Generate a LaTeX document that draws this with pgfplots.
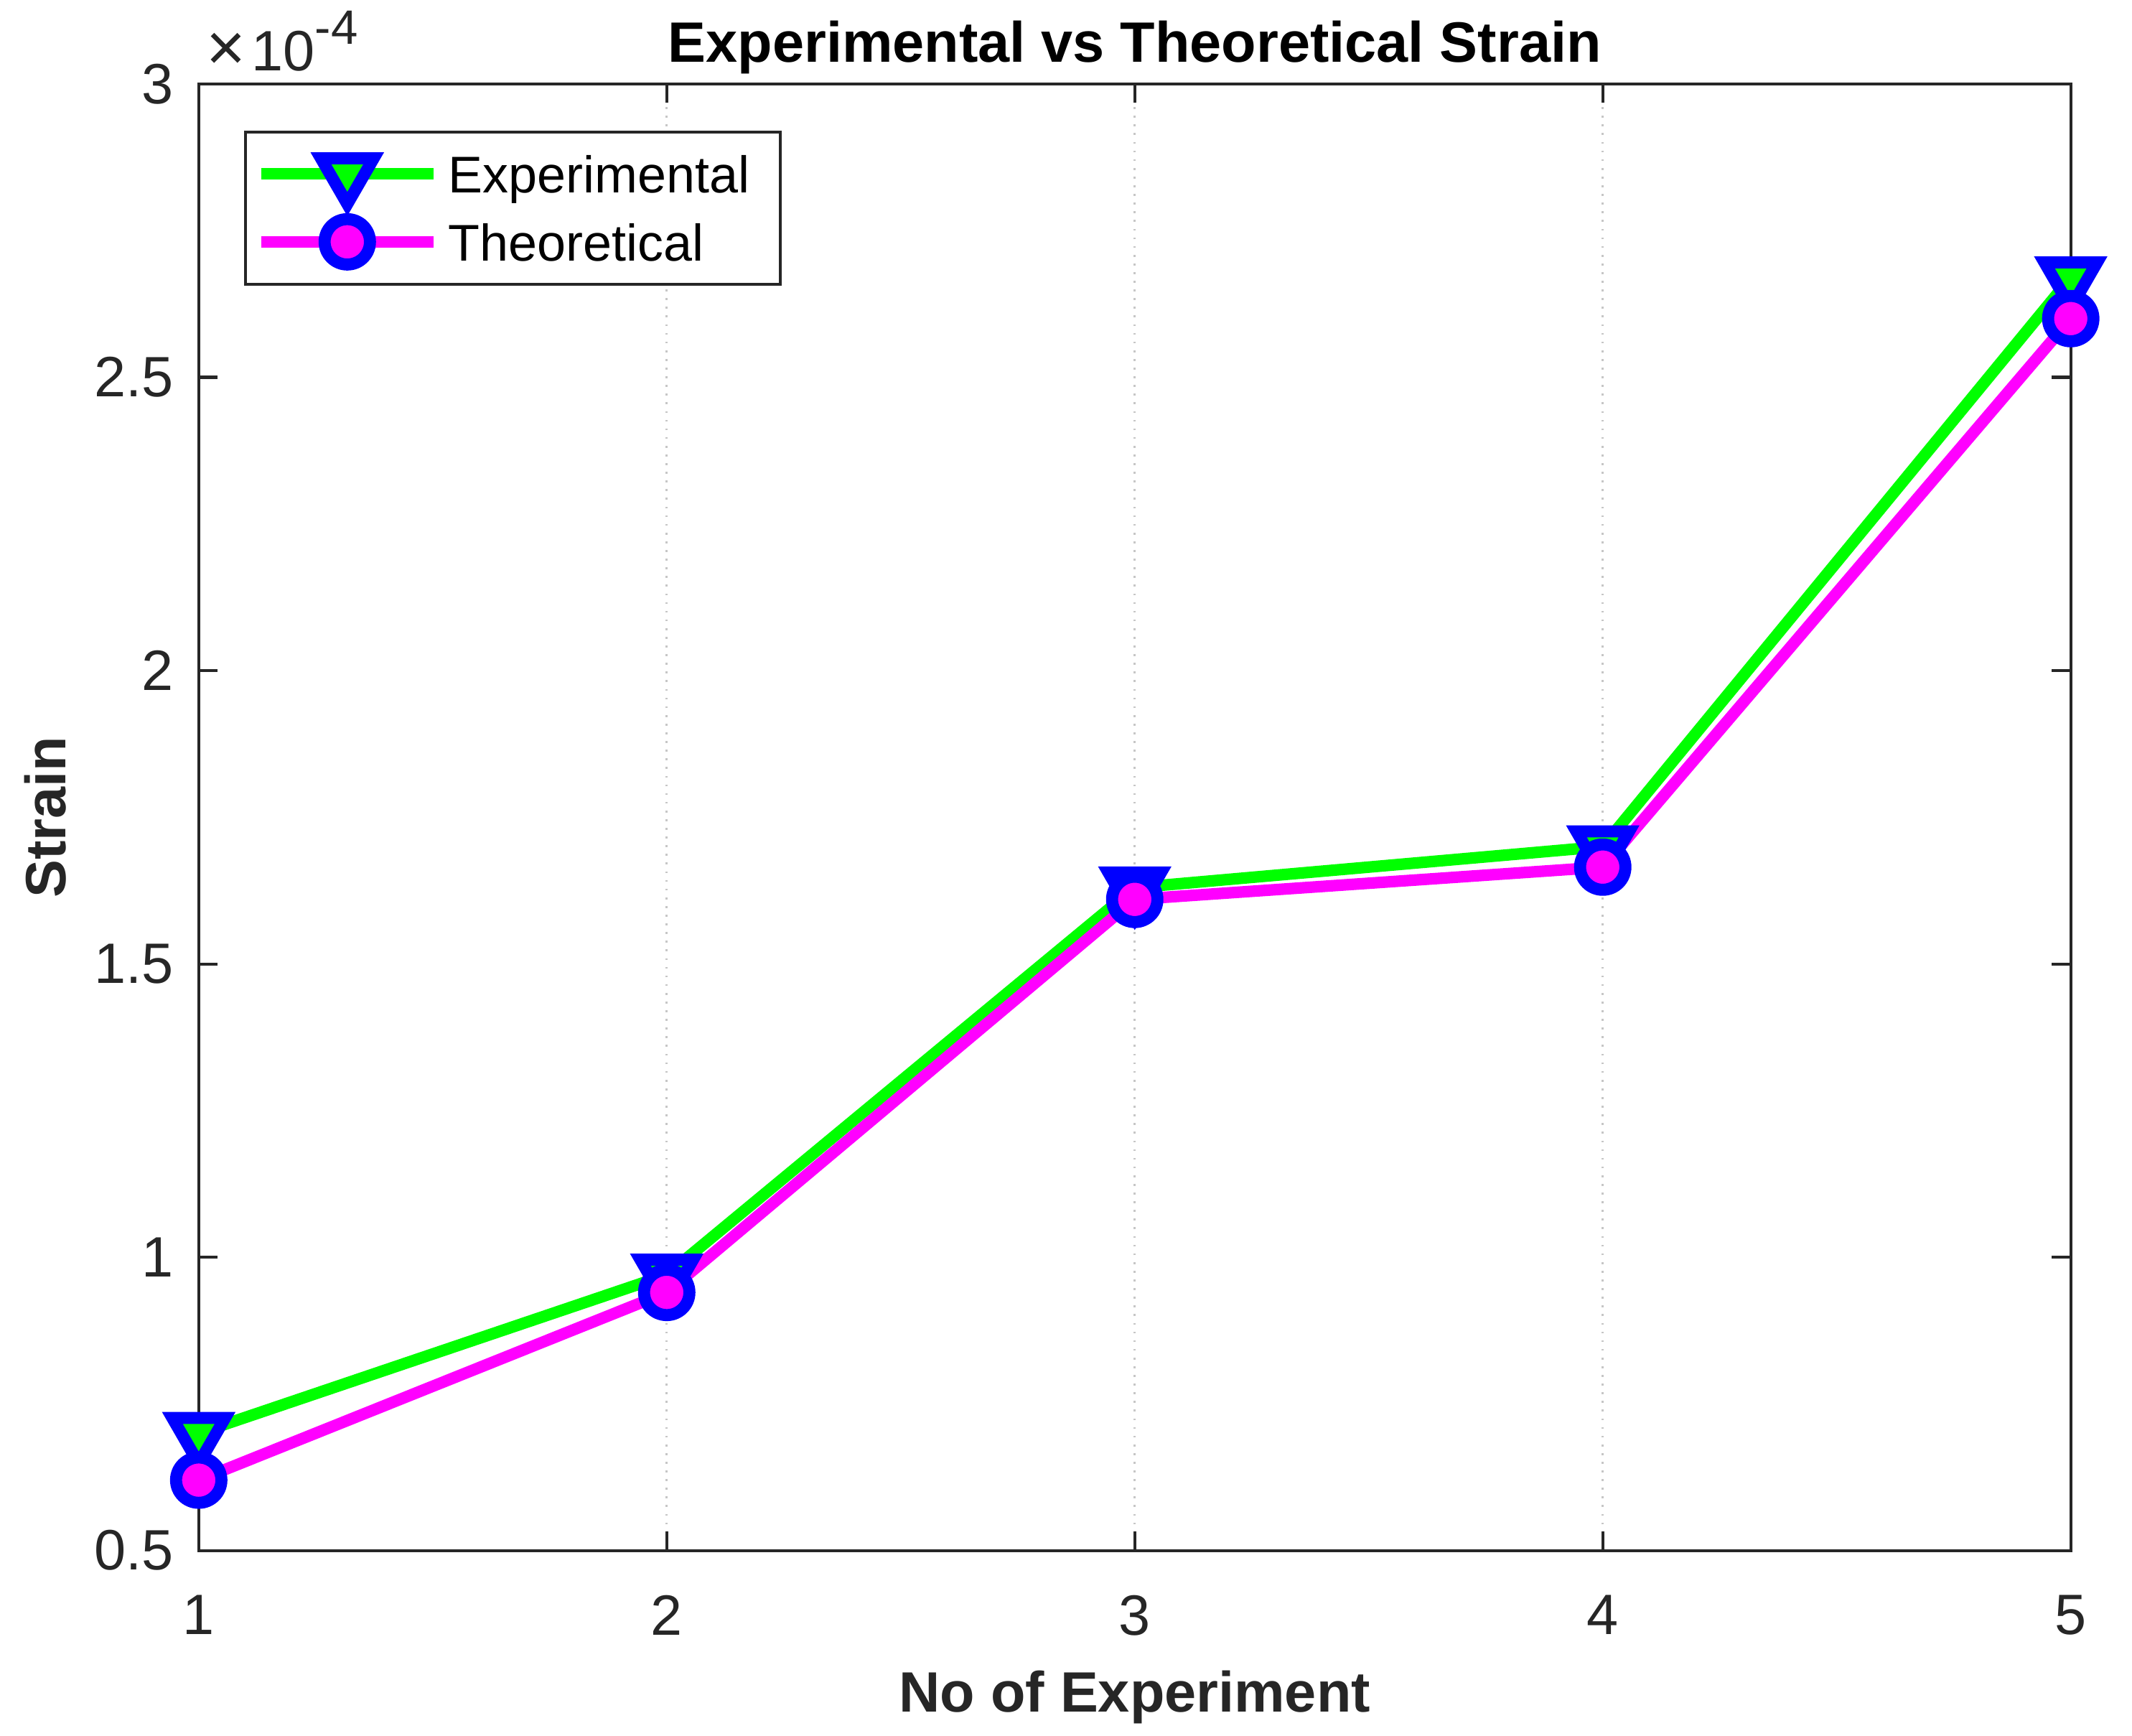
\documentclass[border=0pt]{standalone}
\usepackage{fontspec}
\setmainfont{Liberation Sans}
\usepackage{pgfplots}
\pgfplotsset{compat=1.18}
\definecolor{axiscol}{RGB}{38,38,38}
\definecolor{mgreen}{RGB}{0,255,0}
\definecolor{mmag}{RGB}{255,0,255}
\definecolor{mblue}{RGB}{0,0,255}
\newcommand{\fs}{\fontsize{11.8}{14}\selectfont}
\newcommand{\lfs}{\fontsize{10.7}{13}\selectfont}
\begin{document}
\begin{tikzpicture}
\begin{axis}[
  scale only axis, width=388.1pt, height=304pt,
  xmin=1, xmax=5, ymin=0.5, ymax=3,
  xtick={1,2,3,4,5}, ytick={0.5,1,1.5,2,2.5,3},
  /pgf/number format/assume math mode=true,
  tick label style={font=\fs, text=axiscol},
  yticklabel style={xshift=-1.7pt},
  xticklabel style={yshift=-5.7pt},
  tick align=inside, major tick length=3.9pt,
  axis line style={axiscol, line width=0.6pt},
  every tick/.style={axiscol, line width=0.6pt},
  xmajorgrids,
  major x grid style={gray!45, line width=0.4pt, dash pattern=on 0.4pt off 1.4pt},
  every axis title shift=0pt,
  every axis title/.style={font=\bfseries\fs, text=black, at={(axis description cs:0.5,1)}, anchor=base, yshift=4.5pt},
  title={Experimental vs Theoretical Strain},
  xlabel={No of Experiment}, ylabel={Strain},
  xlabel style={font=\bfseries\fs, text=axiscol, at={(axis description cs:0.5,-0.1102)}, anchor=base},
  ylabel style={font=\bfseries\fs, text=axiscol, at={(axis description cs:-0.0711,0.5)}, anchor=base},
  clip=false,
  legend style={at={(rel axis cs:0,1)}, anchor=north west, xshift=9.4pt, yshift=-9.7pt,
    draw=axiscol, line width=0.6pt, font=\lfs, text=black,
    inner xsep=3.2pt, inner ysep=1.6pt,
    nodes={inner xsep=3.1pt, inner ysep=1pt, text height=9.95pt, text depth=2.2pt}},
  legend cell align=left,
  legend image code/.code={
    \path[draw=none,fill=none] (0pt,0pt) rectangle (35.8pt,1pt);
    \draw[overlay,mark repeat=2,mark phase=2,#1] plot coordinates {(0pt,0.1pt) (17.9pt,0.1pt) (35.8pt,0.1pt)};
  },
]
\addplot[mgreen, line width=2.4pt, mark=triangle*, mark size=6.3pt,
  mark options={solid, draw=mblue, fill=mgreen, line width=2.5pt, rotate=180}]
  coordinates {(1,0.70) (2,0.97) (3,1.63) (4,1.70) (5,2.67)};
\addlegendentry{Experimental\hspace{-1.7pt}}
\addplot[mmag, line width=2.4pt, mark=*, mark size=4.7pt,
  mark options={solid, draw=mblue, fill=mmag, line width=2.5pt}]
  coordinates {(1,0.62) (2,0.94) (3,1.61) (4,1.665) (5,2.60)};
\addlegendentry{Theoretical}
\node[anchor=base west, inner sep=0pt, text=axiscol, font=\fs, xshift=1.4pt, yshift=2.8pt] at (rel axis cs:0,1) {{\fontsize{14}{14}\selectfont ×}\hspace{1.2pt}10\raisebox{5.4pt}{\fontsize{10}{10}\selectfont -4}};
\end{axis}
\pgfresetboundingbox
\path[use as bounding box] (-41.2pt,-38.4pt) rectangle (400.8pt,321.4pt);
\end{tikzpicture}
\end{document}
